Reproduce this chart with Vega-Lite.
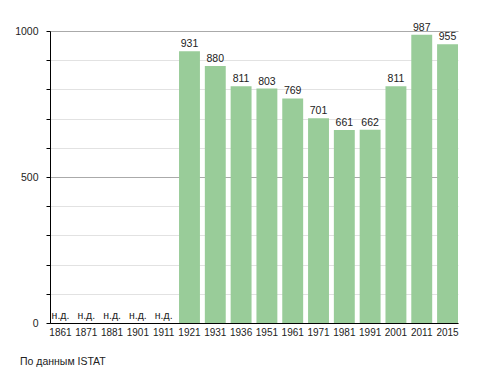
{
  "$schema": "https://vega.github.io/schema/vega-lite/v6.json",
  "width": 408,
  "height": 292,
  "autosize": {"type": "none"},
  "padding": {"left": 50, "top": 31, "right": 30, "bottom": 50},
  "background": "white",
  "config": {
    "view": {"stroke": null},
    "font": "Liberation Sans",
    "text": {"font": "Liberation Sans"}
  },
  "title": {
    "text": "По данным  ISTAT",
    "orient": "bottom",
    "anchor": "start",
    "frame": "group",
    "dx": -30,
    "offset": 20,
    "fontSize": 10.5,
    "fontWeight": "normal",
    "color": "#222",
    "font": "Liberation Sans"
  },
  "data": {
    "values": [
      {"year": "1861", "pop": null, "label": "н.д."},
      {"year": "1871", "pop": null, "label": "н.д."},
      {"year": "1881", "pop": null, "label": "н.д."},
      {"year": "1901", "pop": null, "label": "н.д."},
      {"year": "1911", "pop": null, "label": "н.д."},
      {"year": "1921", "pop": 931, "label": "931"},
      {"year": "1931", "pop": 880, "label": "880"},
      {"year": "1936", "pop": 811, "label": "811"},
      {"year": "1951", "pop": 803, "label": "803"},
      {"year": "1961", "pop": 769, "label": "769"},
      {"year": "1971", "pop": 701, "label": "701"},
      {"year": "1981", "pop": 661, "label": "661"},
      {"year": "1991", "pop": 662, "label": "662"},
      {"year": "2001", "pop": 811, "label": "811"},
      {"year": "2011", "pop": 987, "label": "987"},
      {"year": "2015", "pop": 955, "label": "955"}
    ]
  },
  "transform": [{"calculate": "isValid(datum.pop) ? datum.pop : 0", "as": "ypos"}],
  "encoding": {
    "x": {
      "field": "year",
      "type": "ordinal",
      "sort": ["1861", "1871", "1881", "1901", "1911", "1921", "1931", "1936", "1951", "1961", "1971", "1981", "1991", "2001", "2011", "2015"],
      "scale": {"paddingInner": 0.19, "paddingOuter": 0},
      "axis": {
        "title": null,
        "labelAngle": 0,
        "ticks": false,
        "domainColor": "#000",
        "labelFontSize": 10,
        "labelColor": "#222",
        "labelPadding": 4,
        "labelOverlap": false,
        "labelFont": "Liberation Sans"
      }
    },
    "y": {
      "field": "ypos",
      "type": "quantitative",
      "scale": {"domain": [0, 1000], "nice": false},
      "axis": {
        "title": null,
        "values": [0, 100, 200, 300, 400, 500, 600, 700, 800, 900, 1000],
        "labelExpr": "datum.value % 500 == 0 ? datum.label : ''",
        "labelOverlap": false,
        "format": "d",
        "grid": true,
        "gridColor": {"condition": {"test": "datum.value % 500 == 0", "value": "#aaaaaa"}, "value": "#e2e2e2"},
        "gridWidth": 1,
        "tickSize": 4,
        "tickColor": "#000",
        "domainColor": "#000",
        "labelPadding": 8,
        "labelFontSize": 10.5,
        "labelColor": "#222",
        "labelFont": "Liberation Sans"
      }
    }
  },
  "layer": [
    {
      "mark": {"type": "bar", "color": "#99cc99"}
    },
    {
      "mark": {"type": "text", "baseline": "alphabetic", "dy": -4, "fontSize": 10.5, "color": "#222", "font": "Liberation Sans"},
      "encoding": {
        "text": {"field": "label"}
      }
    }
  ]
}
